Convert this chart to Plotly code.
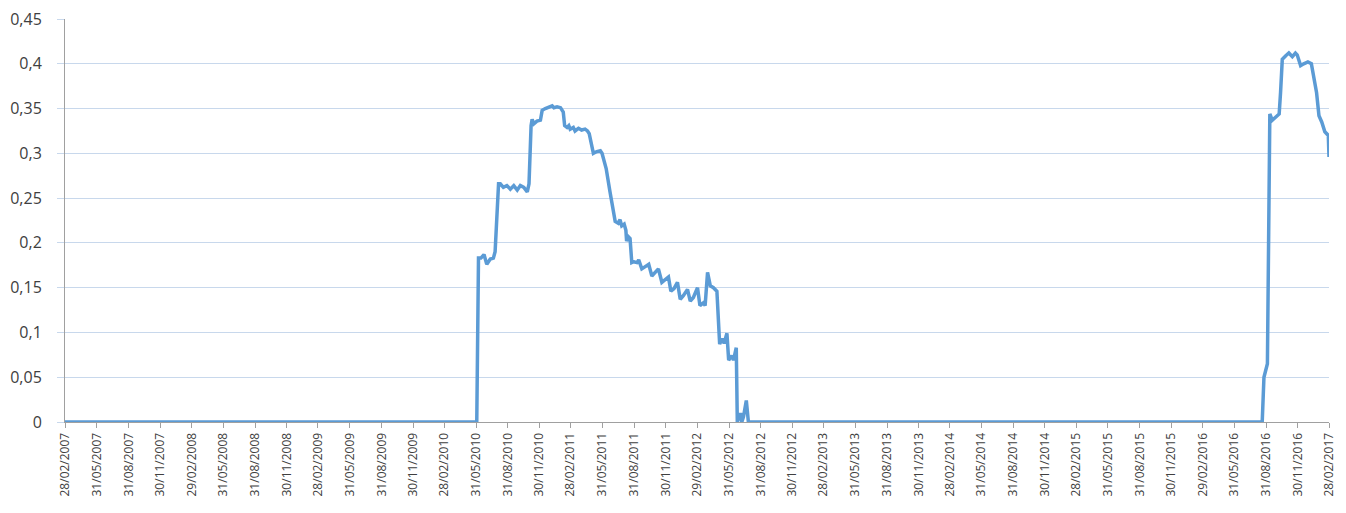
import plotly.graph_objects as go

# --- data ---
dates = [
    "2007-02-28", "2010-06-02", "2010-06-07", "2010-06-14", "2010-06-23", "2010-07-01",
    "2010-07-11", "2010-07-20", "2010-07-25", "2010-08-04", "2010-08-09", "2010-08-18",
    "2010-08-28", "2010-09-07", "2010-09-17", "2010-09-27", "2010-10-06", "2010-10-16",
    "2010-10-26", "2010-10-31", "2010-11-06", "2010-11-09", "2010-11-14", "2010-11-23",
    "2010-12-03", "2010-12-08", "2010-12-17", "2010-12-27", "2011-01-06", "2011-01-11",
    "2011-01-20", "2011-01-30", "2011-02-07", "2011-02-11", "2011-02-18", "2011-02-23",
    "2011-02-27", "2011-03-08", "2011-03-13", "2011-03-23", "2011-04-01", "2011-04-11",
    "2011-04-18", "2011-04-23", "2011-04-30", "2011-05-05", "2011-05-15", "2011-05-25",
    "2011-05-30", "2011-06-05", "2011-06-11", "2011-06-22", "2011-07-07", "2011-07-16",
    "2011-07-21", "2011-07-26", "2011-08-02", "2011-08-07", "2011-08-09", "2011-08-14",
    "2011-08-19", "2011-08-24", "2011-08-29", "2011-09-08", "2011-09-13", "2011-09-22",
    "2011-10-02", "2011-10-12", "2011-10-21", "2011-10-31", "2011-11-09", "2011-11-19",
    "2011-11-29", "2011-12-08", "2011-12-15", "2011-12-24", "2012-01-03", "2012-01-11",
    "2012-01-20", "2012-02-01", "2012-02-09", "2012-02-18", "2012-03-01", "2012-03-08",
    "2012-03-18", "2012-03-23", "2012-03-30", "2012-04-07", "2012-04-16", "2012-04-26",
    "2012-05-04", "2012-05-11", "2012-05-17", "2012-05-25", "2012-05-30", "2012-06-08",
    "2012-06-13", "2012-06-21", "2012-06-24", "2012-07-03", "2012-07-07", "2012-07-12",
    "2012-07-20", "2012-07-26", "2016-08-19", "2016-08-24", "2016-09-03", "2016-09-10",
    "2016-09-17", "2016-09-27", "2016-10-07", "2016-10-11", "2016-10-16", "2016-10-26",
    "2016-11-04", "2016-11-14", "2016-11-23", "2016-11-28", "2016-12-08", "2016-12-17",
    "2016-12-29", "2017-01-08", "2017-01-15", "2017-01-23", "2017-01-30", "2017-02-07",
    "2017-02-16", "2017-02-23", "2017-02-26", "2017-02-28",
]
values = [
    0.0, 0.0, 0.183, 0.183, 0.187, 0.176,
    0.182, 0.183, 0.190, 0.266, 0.266, 0.262,
    0.264, 0.260, 0.264, 0.259, 0.264, 0.262,
    0.257, 0.266, 0.331, 0.338, 0.333, 0.336,
    0.337, 0.348, 0.350, 0.351, 0.353, 0.351,
    0.352, 0.351, 0.346, 0.331, 0.329, 0.331,
    0.327, 0.329, 0.325, 0.328, 0.326, 0.327,
    0.325, 0.322, 0.309, 0.300, 0.302, 0.303,
    0.300, 0.290, 0.283, 0.257, 0.224, 0.222,
    0.226, 0.219, 0.221, 0.214, 0.202, 0.207,
    0.205, 0.178, 0.179, 0.178, 0.181, 0.171,
    0.173, 0.176, 0.163, 0.168, 0.171, 0.156,
    0.159, 0.162, 0.146, 0.149, 0.156, 0.137,
    0.141, 0.148, 0.135, 0.139, 0.150, 0.130,
    0.133, 0.130, 0.167, 0.152, 0.150, 0.146,
    0.087, 0.093, 0.088, 0.099, 0.069, 0.074,
    0.069, 0.083, 0.0, 0.010, 0.0, 0.006,
    0.024, 0.0, 0.0, 0.050, 0.065, 0.344,
    0.337, 0.340, 0.344, 0.368, 0.405, 0.409,
    0.412, 0.408, 0.412, 0.410, 0.398, 0.400,
    0.402, 0.400, 0.383, 0.368, 0.342, 0.335,
    0.324, 0.322, 0.320, 0.296,
]

x_tick_dates = [
    "2007-02-28", "2007-05-31", "2007-08-31", "2007-11-30",
    "2008-02-29", "2008-05-31", "2008-08-31", "2008-11-30",
    "2009-02-28", "2009-05-31", "2009-08-31", "2009-11-30",
    "2010-02-28", "2010-05-31", "2010-08-31", "2010-11-30",
    "2011-02-28", "2011-05-31", "2011-08-31", "2011-11-30",
    "2012-02-29", "2012-05-31", "2012-08-31", "2012-11-30",
    "2013-02-28", "2013-05-31", "2013-08-31", "2013-11-30",
    "2014-02-28", "2014-05-31", "2014-08-31", "2014-11-30",
    "2015-02-28", "2015-05-31", "2015-08-31", "2015-11-30",
    "2016-02-29", "2016-05-31", "2016-08-31", "2016-11-30",
    "2017-02-28",
]
x_tick_labels = ["/".join(reversed(d.split("-"))) for d in x_tick_dates]

y_tick_vals = [0, 0.05, 0.1, 0.15, 0.2, 0.25, 0.3, 0.35, 0.4, 0.45]
y_tick_labels = ["0", "0,05", "0,1", "0,15", "0,2", "0,25", "0,3", "0,35", "0,4", "0,45"]

fig = go.Figure()
fig.add_trace(go.Scatter(
    x=dates, y=values, mode="lines",
    line=dict(color="#5b9bd5", width=3.5),
    hoverinfo="x+y",
))

fig.update_layout(
    width=1338, height=505,
    margin=dict(l=57, r=17, t=11, b=91),
    paper_bgcolor="white", plot_bgcolor="white",
    showlegend=False,
    font=dict(family="Open Sans", color="#404040"),
)
fig.update_xaxes(
    type="date", automargin=False,
    range=["2007-02-28", "2017-02-28"],
    tickmode="array", tickvals=x_tick_dates, ticktext=x_tick_labels,
    tickangle=-90, tickfont=dict(size=12, color="#404040"),
    ticks="outside", ticklen=5, tickcolor="#a0a0a0",
    ticklabeloverflow="allow",
    showgrid=False, showline=True, linecolor="#a0a0a0", linewidth=1,
    zeroline=False,
)
fig.update_yaxes(
    automargin=False,
    range=[0, 0.45],
    tickmode="array", tickvals=y_tick_vals, ticktext=y_tick_labels,
    tickfont=dict(size=16, color="#404040"),
    ticks="outside", ticklen=7, tickcolor="#c8d8ec",
    ticklabelstandoff=12, ticklabeloverflow="allow",
    showgrid=True, gridcolor="#c8d8ec", gridwidth=1,
    showline=True, linecolor="#a0a0a0", linewidth=1,
    zeroline=False,
)

fig.write_html("out.html")
